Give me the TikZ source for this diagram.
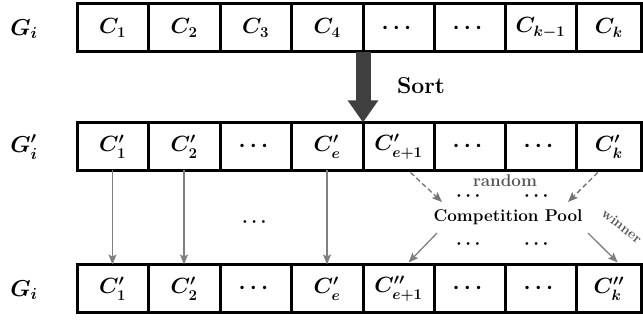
\RequirePackage{fix-cm}
\documentclass[tikz,border=0pt]{standalone}
\usepackage{amsmath}
\usetikzlibrary{arrows.meta,calc}
\definecolor{sortgray}{RGB}{64,64,64}
\definecolor{linkgray}{RGB}{128,128,128}
\definecolor{dashgray}{RGB}{115,115,115}
\definecolor{textgray}{RGB}{85,85,85}
\DeclareMathSizes{22}{22}{15}{11}
\DeclareMathSizes{23}{23}{16}{12}
\DeclareMathSizes{18}{18}{12}{9}
\begin{document}
\begin{tikzpicture}[x=1pt,y=-1pt,
  cell/.style={draw=black,line width=3pt,outer sep=0pt,inner sep=0pt,minimum height=48pt,
    font=\fontsize{22}{24}\selectfont\boldmath},
  rowlabel/.style={inner sep=0pt,font=\fontsize{23}{25}\selectfont\boldmath},
  link/.style={draw=linkgray,line width=1.3pt,-{Stealth[length=10pt,width=8pt,inset=2pt]}},
  dlink/.style={link,draw=dashgray,dash pattern=on 5pt off 3pt},
  btext/.style={inner sep=0pt,font=\fontsize{17}{19}\selectfont\bfseries},
  dots/.style={inner sep=0pt,font=\fontsize{18}{20}\selectfont\boldmath}]
\useasboundingbox (0,0) rectangle (643,320);
% row 1
\node[cell,minimum width=71pt] (a1) at (112.5,28) {$C_1$};
\node[cell,minimum width=72pt] (a2) at (184,28) {$C_2$};
\node[cell,minimum width=71pt] (a3) at (255.5,28) {$C_3$};
\node[cell,minimum width=72pt] (a4) at (327,28) {$C_4$};
\node[cell,minimum width=71pt] (a5) at (398.5,28) {$\cdots$};
\node[cell,minimum width=71pt] (a6) at (469.5,28) {$\cdots$};
\node[cell,minimum width=71pt] (a7) at (540.5,28) {$C_{k-1}$};
\node[cell,minimum width=65.5pt] (a8) at (608.75,28) {$C_k$};
% row 2
\node[cell,minimum width=71pt] (b1) at (112.5,146.5) {$C_1^{\prime}$};
\node[cell,minimum width=72pt] (b2) at (184,146.5) {$C_2^{\prime}$};
\node[cell,minimum width=71pt] (b3) at (255.5,146.5) {$\cdots$};
\node[cell,minimum width=72pt] (b4) at (327,146.5) {$C_e^{\prime}$};
\node[cell,minimum width=71pt] (b5) at (398.5,146.5) {$C_{e+1}^{\prime}$};
\node[cell,minimum width=71pt] (b6) at (469.5,146.5) {$\cdots$};
\node[cell,minimum width=71pt] (b7) at (540.5,146.5) {$\cdots$};
\node[cell,minimum width=65.5pt] (b8) at (608.75,146.5) {$C_k^{\prime}$};
% row 3
\node[cell,minimum width=71pt] (c1) at (112.5,288.5) {$C_1^{\prime}$};
\node[cell,minimum width=72pt] (c2) at (184,288.5) {$C_2^{\prime}$};
\node[cell,minimum width=71pt] (c3) at (255.5,288.5) {$\cdots$};
\node[cell,minimum width=72pt] (c4) at (327,288.5) {$C_e^{\prime}$};
\node[cell,minimum width=71pt] (c5) at (398.5,288.5) {$C_{e+1}^{\prime\prime}$};
\node[cell,minimum width=71pt] (c6) at (469.5,288.5) {$\cdots$};
\node[cell,minimum width=71pt] (c7) at (540.5,288.5) {$\cdots$};
\node[cell,minimum width=65.5pt] (c8) at (608.75,288.5) {$C_k^{\prime\prime}$};
% row labels
\node[rowlabel] (g1) at (24,29) {$G_i$};
\node[rowlabel] (g2) at (24,147) {$G_i^{\prime}$};
\node[rowlabel] (g3) at (24,290) {$G_i$};
% sort arrow
\draw[sortgray,line width=15pt,-{Triangle[length=22pt,width=29pt]}] (a4.south east) -- (b4.north east);
\node[btext,font=\fontsize{23}{25}\selectfont\bfseries] (sort) at (421,86) {Sort};
% straight links
\draw[link] (b1.south) -- (c1.north);
\draw[link] (b2.south) -- (c2.north);
\draw[link] (b4.south) -- (c4.north);
\node[dots] (mid) at (256,222) {$\cdots$};
% competition pool
\node[btext] (pool) at (508,217) {Competition Pool};
\node[btext,textgray,font=\fontsize{17}{19}\selectfont\bfseries] (rnd) at (505,181) {random};
\node[dots] (d1) at (470,196) {$\cdots$};
\node[dots] (d2) at (538,196) {$\cdots$};
\node[dots] (d3) at (470,244) {$\cdots$};
\node[dots] (d4) at (538,244) {$\cdots$};
\coordinate (s1) at ($(b5.south)+(12,2)$);
\coordinate (s2) at ($(b8.south)+(-11,2)$);
\coordinate (p1) at (442,202);
\coordinate (p2) at (568,202);
\coordinate (q1) at (437,233);
\coordinate (q2) at (588,233);
\draw[dlink] (s1) -- (p1);
\draw[dlink] (s2) -- (p2);
\draw[link] (q1) -- ($(c5.north)+(10,-2)$);
\draw[link] (q2) -- ($(c8.north)+(9,-2)$);
\node[inner sep=0pt,textgray,rotate=-38,font=\fontsize{14}{16}\selectfont\bfseries] (win) at (622,226) {winner};
\end{tikzpicture}
\end{document}
